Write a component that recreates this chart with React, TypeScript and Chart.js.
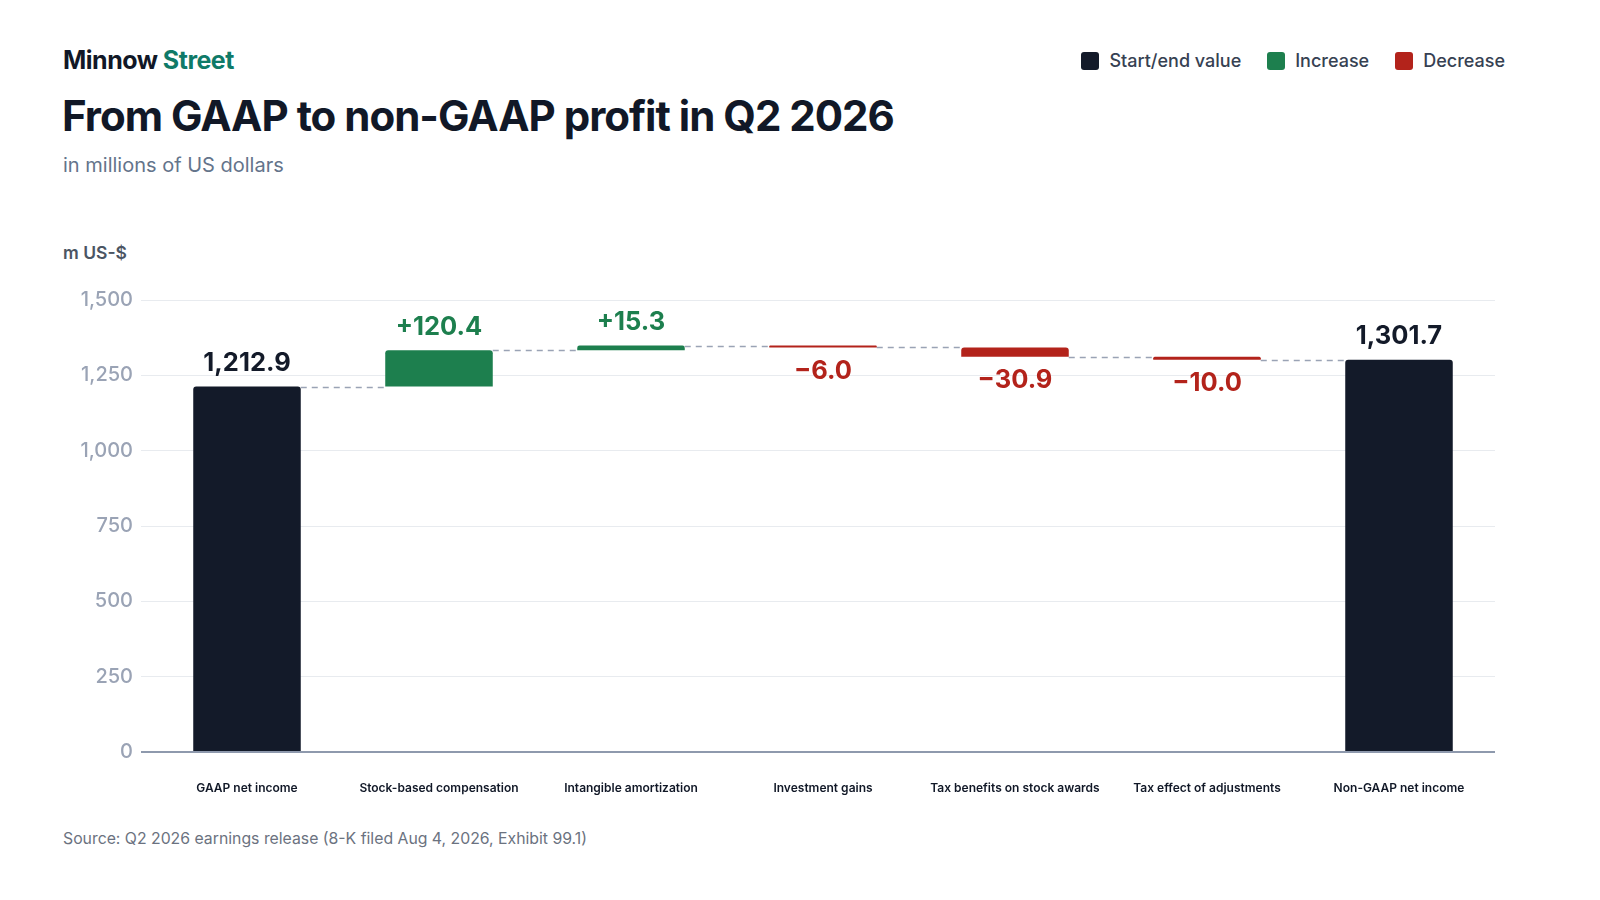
import { useEffect, useRef } from 'react'
import { Chart, registerables } from 'chart.js'

// Register all Chart.js components
Chart.register(...registerables)

const categories = [
  'GAAP net income',
  'Stock-based compensation',
  'Intangible amortization',
  'Investment gains',
  'Tax benefits on stock awards',
  'Tax effect of adjustments',
  'Non-GAAP net income',
]
// first and last are totals, the rest are changes
const values = [1212.9, 120.4, 15.3, -6.0, -30.9, -10.0, 1301.7]
const kinds = ['total', 'up', 'up', 'down', 'down', 'down', 'total']
const yTicks = [0, 250, 500, 750, 1000, 1250, 1500]

const COLORS: Record<string, string> = {
  total: '#131a29',
  up: '#1d7f4e',
  down: '#b3231b',
}
const FONT = 'Inter, "Noto Sans", sans-serif'

// build [start, end] ranges for the floating bars
const ranges: number[][] = []
const levels: number[] = []
let running = 0
values.forEach((v, i) => {
  if (kinds[i] === 'total') {
    ranges.push([0, v])
    running = v
  } else {
    ranges.push([running, running + v])
    running = running + v
  }
  levels.push(running)
})

const formatLabel = (v: number, kind: string) => {
  if (kind === 'total') return v.toLocaleString('en-US', { minimumFractionDigits: 1, maximumFractionDigits: 1 })
  if (v >= 0) return '+' + v.toFixed(1)
  return '\u2212' + Math.abs(v).toFixed(1)
}

const waterfallPlugin = {
  id: 'waterfall',
  beforeDatasetsDraw(chart: any) {
    const { ctx } = chart
    const meta = chart.getDatasetMeta(0)
    const y = chart.scales.y
    ctx.save()
    ctx.strokeStyle = '#9aa3b5'
    ctx.lineWidth = 1.5
    ctx.setLineDash([6, 5])
    for (let i = 0; i < meta.data.length - 1; i++) {
      const bar = meta.data[i]
      const next = meta.data[i + 1]
      const py = Math.round(y.getPixelForValue(levels[i])) + 0.5
      ctx.beginPath()
      ctx.moveTo(bar.x + bar.width / 2, py)
      ctx.lineTo(next.x - next.width / 2, py)
      ctx.stroke()
    }
    ctx.restore()
  },
  afterDatasetsDraw(chart: any) {
    const { ctx } = chart
    const meta = chart.getDatasetMeta(0)
    const y = chart.scales.y
    ctx.save()
    ctx.textAlign = 'center'
    ctx.textBaseline = 'middle'
    ctx.font = `700 25.5px ${FONT}`
    meta.data.forEach((bar: any, i: number) => {
      const [a, b] = ranges[i]
      const top = y.getPixelForValue(Math.max(a, b))
      const bottom = y.getPixelForValue(Math.min(a, b))
      ctx.fillStyle = COLORS[kinds[i]]
      const text = formatLabel(values[i], kinds[i])
      if (kinds[i] === 'down') ctx.fillText(text, bar.x, bottom + 24)
      else ctx.fillText(text, bar.x, top - 23)
    })
    ctx.restore()
  },
}

function LegendItem({ color, label }: { color: string; label: string }) {
  return (
    <div style={{ display: 'flex', alignItems: 'center', marginLeft: 26 }}>
      <span style={{ width: 18, height: 18, borderRadius: 3, background: color, display: 'inline-block', marginRight: 10 }} />
      <span style={{ fontSize: 18, fontWeight: 500, color: '#364152' }}>{label}</span>
    </div>
  )
}

export default function App() {
  const canvasRef = useRef<HTMLCanvasElement | null>(null)
  const chartInstance = useRef<Chart | null>(null)

  useEffect(() => {
    document.body.style.margin = '0'
    if (!canvasRef.current) return
    if (chartInstance.current) chartInstance.current.destroy()
    const ctx = canvasRef.current.getContext('2d')
    if (!ctx) return

    chartInstance.current = new Chart(ctx, {
      type: 'bar',
      data: {
        labels: categories,
        datasets: [
          {
            data: ranges as any,
            backgroundColor: kinds.map(k => COLORS[k]),
            borderRadius: 3,
            barPercentage: 0.56,
            categoryPercentage: 1,
          },
        ],
      },
      options: {
        animation: false,
        responsive: false,
        maintainAspectRatio: false,
        layout: { padding: { top: 18, right: 105, left: 0, bottom: 0 } },
        plugins: {
          legend: { display: false },
          tooltip: { enabled: false },
        },
        scales: {
          x: {
            grid: { display: false },
            border: { display: false },
            ticks: {
              padding: 21,
              color: '#111827',
              font: { family: FONT, size: 12, weight: 600 },
              maxRotation: 0,
              autoSkip: false,
            },
            afterFit: (scale: any) => {
              scale.height = 68
            },
          },
          y: {
            min: 0,
            max: 1500,
            afterBuildTicks: (scale: any) => {
              scale.ticks = yTicks.map(v => ({ value: v }))
            },
            grid: {
              color: (c: any) => (c.tick && c.tick.value === 0 ? '#8e99ad' : '#e8ebef'),
              lineWidth: (c: any) => (c.tick && c.tick.value === 0 ? 2 : 1),
              tickLength: 10,
            },
            border: { display: false },
            ticks: {
              padding: 8,
              color: '#9aa3b5',
              font: { family: FONT, size: 20, weight: 500 },
              callback: (v: any) => Number(v).toLocaleString('en-US'),
            },
            afterFit: (scale: any) => {
              scale.width = 151
            },
          },
        },
      },
      plugins: [waterfallPlugin],
    })

    return () => {
      if (chartInstance.current) {
        chartInstance.current.destroy()
        chartInstance.current = null
      }
    }
  }, [])

  return (
    <div style={{ position: 'relative', width: 1600, height: 900, background: '#fff', fontFamily: FONT, overflow: 'hidden' }}>
      <div style={{ position: 'absolute', left: 63, top: 45, fontSize: 25, fontWeight: 700, letterSpacing: -0.5, color: '#111827' }}>
        Minnow <span style={{ color: '#0f7a68' }}>Street</span>
      </div>
      <div style={{ position: 'absolute', right: 95, top: 50, display: 'flex' }}>
        <LegendItem color={COLORS.total} label="Start/end value" />
        <LegendItem color={COLORS.up} label="Increase" />
        <LegendItem color={COLORS.down} label="Decrease" />
      </div>
      <div style={{ position: 'absolute', left: 62, top: 90, fontSize: 42, fontWeight: 700, letterSpacing: -1.0, color: '#111827' }}>
        From GAAP to non-GAAP profit in Q2 2026
      </div>
      <div style={{ position: 'absolute', left: 63, top: 153, fontSize: 20, color: '#64748b' }}>
        in millions of US dollars
      </div>
      <div style={{ position: 'absolute', left: 63, top: 242, fontSize: 17.5, fontWeight: 600, color: '#4b5563' }}>
        m US-$
      </div>
      <canvas
        ref={canvasRef}
        width={1600}
        height={540}
        style={{ position: 'absolute', left: 0, top: 280, width: 1600, height: 540 }}
      />
      <div style={{ position: 'absolute', left: 63, top: 829, fontSize: 15.8, color: '#6b7280' }}>
        Source: Q2 2026 earnings release (8-K filed Aug 4, 2026, Exhibit 99.1)
      </div>
    </div>
  )
}
